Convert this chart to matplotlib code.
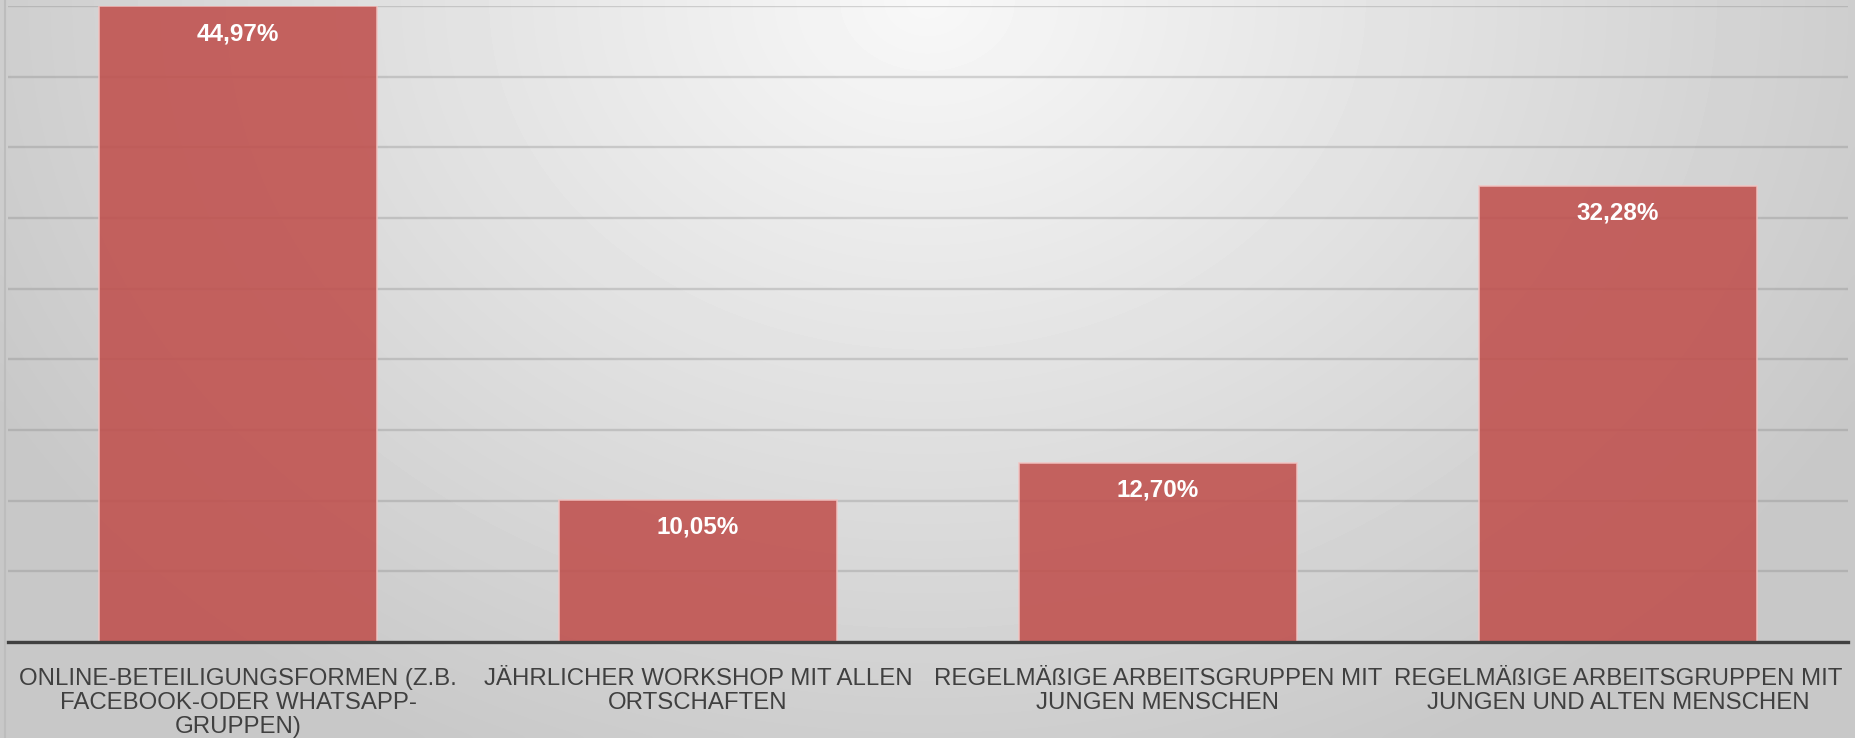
import numpy as np
import matplotlib
matplotlib.use("Agg")
import matplotlib.pyplot as plt
from matplotlib.lines import Line2D

categories = [
    "ONLINE-BETEILIGUNGSFORMEN (Z.B.\nFACEBOOK-ODER WHATSAPP-\nGRUPPEN)",
    "JÄHRLICHER WORKSHOP MIT ALLEN\nORTSCHAFTEN",
    "REGELMÄßIGE ARBEITSGRUPPEN MIT\nJUNGEN MENSCHEN",
    "REGELMÄßIGE ARBEITSGRUPPEN MIT\nJUNGEN UND ALTEN MENSCHEN",
]
values = [44.97, 10.05, 12.70, 32.28]
value_labels = ["44,97%", "10,05%", "12,70%", "32,28%"]

plt.rcParams["font.family"] = ["Liberation Sans", "DejaVu Sans"]

W, H = 1855, 738
fig = plt.figure(figsize=(W / 100, H / 100), dpi=100)

# radial grey background, bright at top centre
bg = fig.add_axes([0, 0, 1, 1], zorder=0)
yy, xx = np.mgrid[0:1:200j, 0:1:400j]
r = np.sqrt(((xx - 0.5) / 0.5) ** 2 + (yy / 1.0) ** 2)
shade = (248 - 42 * np.minimum(r, 1.15)) / 255
bg.imshow(shade, cmap="gray", vmin=0, vmax=1, aspect="auto",
          extent=[0, 1, 1, 0], interpolation="bicubic")
bg.set_xlim(0, 1)
bg.set_ylim(1, 0)
bg.axis("off")

ax = fig.add_axes([8 / W, 1 - 642 / H, 1840 / W, 636 / H], zorder=1)
ax.patch.set_alpha(0)

x = np.arange(len(categories))
bars = ax.bar(x, values, width=0.605, color="#C0504D", alpha=0.88,
              edgecolor="#f2c4c2", linewidth=1.2, zorder=3)

for b, lab in zip(bars, value_labels):
    ax.annotate(lab, (b.get_x() + b.get_width() / 2, b.get_height()),
                xytext=(0, -19.5), textcoords="offset points",
                ha="center", va="center", color="white",
                fontsize=17.5, fontweight="bold", zorder=4)

ax.set_xlim(-0.5, 3.5)
ax.set_ylim(0, 45)
ax.set_yticks(np.arange(0, 46, 5))
ax.yaxis.grid(True, color="#808080", alpha=0.3, linewidth=1.7, zorder=1)
ax.set_axisbelow(True)
ax.tick_params(axis="y", left=False, labelleft=False)
ax.set_xticks(x)
ax.set_xticklabels(categories, fontsize=17.3, color="#404040", linespacing=1.12)
ax.tick_params(axis="x", length=0, pad=18.5)

for s in ["top", "right", "left"]:
    ax.spines[s].set_visible(False)
ax.spines["bottom"].set_color("#404040")
ax.spines["bottom"].set_linewidth(2.4)
ax.spines["bottom"].set_zorder(5)

fig.add_artist(Line2D([5 / W, 5 / W], [0, 1], color="#bdbdbd", linewidth=1.5))

fig.savefig("out.png", dpi=100)
